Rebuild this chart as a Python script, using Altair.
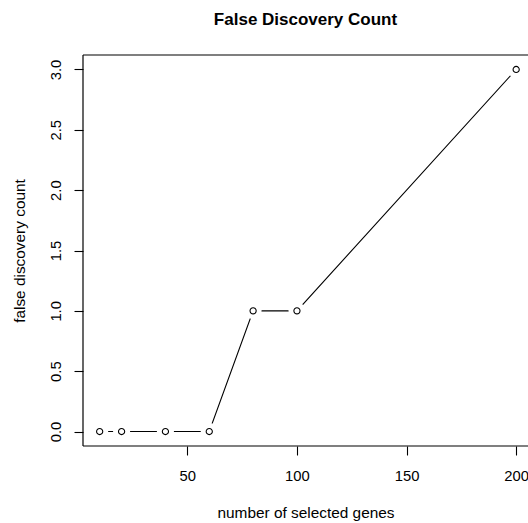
import altair as alt
import pandas as pd

# Number of selected genes and the false discoveries among them
n_selected = [10, 20, 40, 60, 80, 100, 200]
false_discoveries = [0, 0, 0, 0, 1, 1, 3]

x_ticks = [50, 100, 150, 200]
y_ticks = [0.0, 0.5, 1.0, 1.5, 2.0, 2.5, 3.0]

W, H = 445, 391
FONT = "Liberation Sans"

df = pd.DataFrame({"genes": n_selected, "fd": false_discoveries})

x_enc = alt.X(
    "genes:Q",
    scale=alt.Scale(domain=[2.4, 205.4], nice=False, zero=False),
    axis=alt.Axis(
        values=x_ticks, format="d", title="number of selected genes",
        domain=False, grid=False, ticks=True, tickSize=9, tickWidth=1.1,
        tickColor="black", labelColor="black", labelFontSize=14.8,
        labelPadding=13.5, labelBaseline="top", labelFlush=False,
        labelOverlap=False, labelBound=False,
        titleFontSize=15.4, titleFontWeight="normal", titleColor="black",
        titleBaseline="alphabetic", titleY=71,
    ),
)
y_enc = alt.Y(
    "fd:Q",
    scale=alt.Scale(domain=[-0.12, 3.12], nice=False, zero=False),
    axis=alt.Axis(
        values=y_ticks, format=".1f", title="false discovery count",
        domain=False, grid=False, ticks=True, tickSize=9, tickWidth=1.1,
        tickColor="black", labelColor="black", labelFontSize=14.8,
        labelAngle=270, labelAlign="center", labelBaseline="alphabetic",
        labelPadding=13.5, labelOverlap=False, labelBound=False,
        titleFontSize=15.4, titleFontWeight="normal", titleColor="black",
        titleAngle=270, titleAlign="center", titleBaseline="alphabetic",
        titleX=-59, titleY=H / 2,
    ),
)

base = alt.Chart(df).encode(x=x_enc, y=y_enc)

# type="b" style: a connecting line, broken around each point by a white disc
line = base.mark_line(color="black", strokeWidth=1.1)
gaps = base.mark_point(shape="circle", filled=True, color="white", opacity=1, size=289)
points = base.mark_point(shape="circle", filled=False, color="black", size=38,
                         strokeWidth=1.1, opacity=1)

# plot frame (the right side falls at the edge of the canvas)
one = pd.DataFrame({"k": [0]})
frame_top = alt.Chart(one).mark_rule(color="black", strokeWidth=1.2).encode(
    x=alt.value(0), x2=alt.value(W), y=alt.value(0))
frame_bottom = alt.Chart(one).mark_rule(color="black", strokeWidth=1.2).encode(
    x=alt.value(0), x2=alt.value(W), y=alt.value(H))
frame_left = alt.Chart(one).mark_rule(color="black", strokeWidth=1.2).encode(
    x=alt.value(0), y=alt.value(0), y2=alt.value(H))

chart = (
    alt.layer(line, gaps, points, frame_top, frame_bottom, frame_left)
    .properties(
        width=W, height=H,
        title=alt.TitleParams(
            "False Discovery Count", fontSize=17, fontWeight="bold", color="black",
            font=FONT, anchor="middle", baseline="alphabetic", offset=12, frame="group",
        ),
        autosize=alt.AutoSizeParams(type="none"),
        padding={"left": 83, "top": 55, "right": 0, "bottom": 77},
    )
    .configure(font=FONT, background="white")
    .configure_view(stroke=None)
    .configure_axis(labelFont=FONT, titleFont=FONT)
)

chart.save("out.html", embed_options={"renderer": "svg", "actions": False})
